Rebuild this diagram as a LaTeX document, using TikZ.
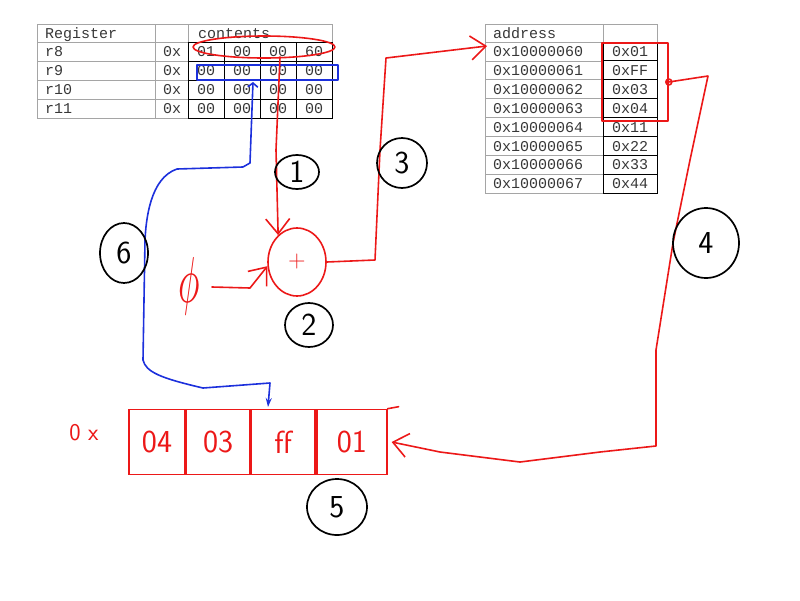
\documentclass[tikz,border=0pt]{standalone}
\usepackage{fontspec}
\usepackage{tikz}
\usetikzlibrary{arrows.meta, shapes, positioning, calc}
\newfontfamily\regfont{Liberation Mono}
\definecolor{gridgray}{RGB}{165,165,165}
\definecolor{textgray}{RGB}{55,55,55}
\definecolor{penred}{RGB}{236,24,24}
\definecolor{penblue}{RGB}{28,48,220}

\tikzset{
  cell/.style={draw=gridgray, line width=0.8pt},
  bytecell/.style={draw=black, line width=0.9pt},
  celltext/.style={anchor=base west, inner sep=0pt, text=textgray, font=\regfont\fontsize{15}{15}\selectfont},
  bytetext/.style={celltext, anchor=base},
  redpen/.style={draw=penred, line width=1.6pt, line cap=round, line join=round},
  bluepen/.style={draw=penblue, line width=1.6pt, line cap=round, line join=round},
  handtext/.style={text=penred, inner sep=0pt, font=\sffamily\fontsize{32}{32}\selectfont},
  stepmark/.style={ellipse, draw=black, line width=1.7pt, inner sep=0pt, font=\sffamily\fontsize{32}{32}\selectfont},
  bytebox/.style={draw=penred, line width=1.6pt, minimum height=65pt, inner sep=0pt, text=penred, font=\sffamily\fontsize{32}{32}\selectfont},
  barb/.tip={Straight Barb[length=15pt, width=24pt]},
}

\begin{document}
\begin{tikzpicture}[x=1pt, y=-1pt]
  \useasboundingbox (0,0) rectangle (800,600);

  % Register table
  \draw[cell] (37,24) rectangle (332,118);
  \draw[cell] (155,24) -- (155,118);
  \draw[cell] (188,24) -- (188,42);
  \node[celltext] (reghead) at (45,38) {Register};
  \node[celltext] (conthead) at (198,38) {contents};
  \foreach \name/\a/\b/\c/\d [count=\i] in {r8/01/00/00/60, r9/00/00/00/00, r10/00/00/00/00, r11/00/00/00/00} {
      \draw[cell] (37,23+19*\i) -- (188,23+19*\i);
      \node[celltext] (reg-\name) at (45,37.5+19*\i) {\name};
      \node[celltext] (hex-\name) at (163,37.5+19*\i) {0x};
      \foreach \v [count=\j] in {\a,\b,\c,\d} {
          \draw[bytecell] (152+36*\j,23+19*\i) rectangle ++(36,19);
          \node[bytetext] (\name-\j) at (170+36*\j,37.5+19*\i) {\v};
      }
  }

  % Memory table
  \draw[cell] (485,24) rectangle (603,193);
  \draw[cell] (603,24) rectangle (657,42);
  \node[celltext] (addrhead) at (493,38) {address};
  \foreach \addr/\val [count=\i] in {60/01, 61/FF, 62/03, 63/04, 64/11, 65/22, 66/33, 67/44} {
      \draw[cell] (485,23.1+18.9*\i) -- (603,23.1+18.9*\i);
      \draw[bytecell] (603,23.1+18.9*\i) rectangle ++(54,18.9);
      \node[celltext] (addr-\addr) at (493,37.6+18.9*\i) {0x100000\addr};
      \node[bytetext] (mem-\addr) at (630,37.6+18.9*\i) {0x\val};
  }

  % Hand marks on the tables
  \node[redpen, ellipse, minimum width=142pt, minimum height=22pt] (r8ring) at (264,47) {};
  \node[bluepen, draw, rectangle, minimum width=141pt, minimum height=15pt] (r9box) at (267.5,72.5) {};
  \node[redpen, draw, rectangle, minimum width=66pt, minimum height=78pt] (memring) at (635,82) {};
  \draw[redpen] (memring.east) circle (3);

  % Adder
  \node[redpen, ellipse, minimum width=58pt, minimum height=68pt, text=penred, font=\sffamily\fontsize{24}{24}\selectfont] (plus) at (297,262) {+};
  \node[text=penred, inner sep=0pt] (zero) at (189,286) {\scalebox{3.6}[6.5]{$\phi$}};

  % Byte boxes
  \node[bytebox, minimum width=56pt] (b4) at (157,442) {04};
  \node[bytebox, minimum width=63pt, right=0pt of b4] (b3) {03};
  \node[bytebox, minimum width=64pt, right=0pt of b3] (bf) {ff};
  \node[bytebox, minimum width=70pt, right=0pt of bf] (b1) {01};
  \draw[redpen] (b1.north east) -- ++(11,-2);
  \node[handtext, font=\sffamily\fontsize{24}{24}\selectfont] (hexmark) at (84,433) {0 x};

  % Free ends
  \coordinate (r8tap) at (280,57);
  \coordinate (memtop) at (487,46);
  \coordinate (r9tap) at (253,82);
  \coordinate (fftap) at (268,407);

  % Connectors
  \draw[redpen, -{barb}] (r8tap) -- (276,150) -- (plus.125);
  \draw[redpen, -{barb}] (212,287) -- (250,288) -- (plus.188);
  \draw[redpen, -{barb}] (plus.east) -- (375,260) -- (380,150) -- (386,58) -- (memtop);
  \draw[redpen, -{barb}] (memring.east) -- (708,76) -- (690,160) -- (673,243) -- (656,350) -- (656,446)
      -- (600,452) -- (520,462) -- (440,452) -- ($(b1.east)+(4,0)$);
  \draw[bluepen, {Straight Barb[length=4pt, width=10pt]}-{Stealth[length=9pt, width=6pt]}]
      (r9tap) -- (250,163) -- (243,167) -- (177,169) .. controls (150,178) and (146,220) .. (145,240)
      -- (143,360) .. controls (146,372) and (160,378) .. (203,388) -- (270,383) -- (fftap);

  % Step numbers
  \node[stepmark, minimum width=44pt, minimum height=34pt] (step1) at (297,172) {1};
  \node[stepmark, minimum width=48pt, minimum height=44pt] (step2) at (309,325) {2};
  \node[stepmark, minimum width=50pt, minimum height=50pt] (step3) at (402,163) {3};
  \node[stepmark, minimum width=66pt, minimum height=70pt] (step4) at (706,243) {4};
  \node[stepmark, minimum width=60pt, minimum height=56pt] (step5) at (337,507) {5};
  \node[stepmark, minimum width=48pt, minimum height=60pt] (step6) at (124,253) {6};
\end{tikzpicture}
\end{document}
